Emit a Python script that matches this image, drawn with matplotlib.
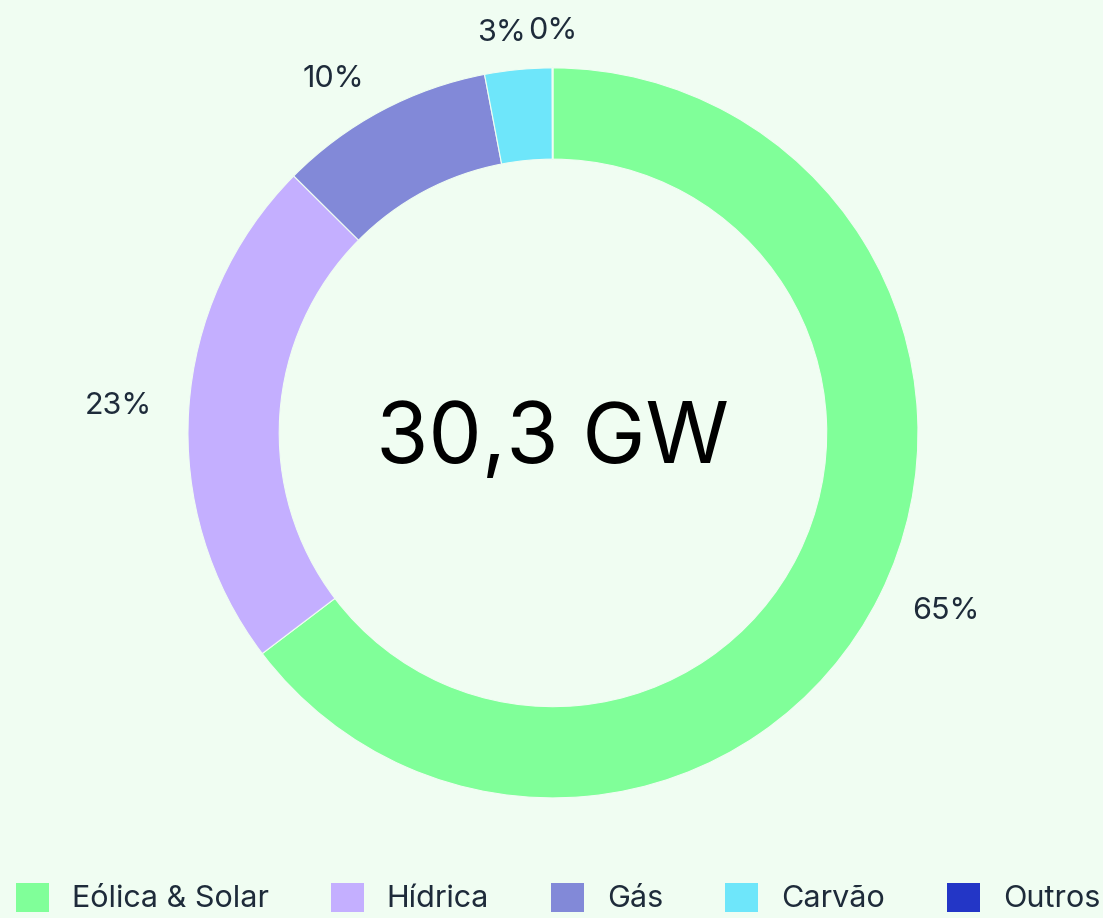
import matplotlib
matplotlib.use("Agg")
import matplotlib.pyplot as plt
from matplotlib.patches import Patch
import numpy as np

plt.rcParams['font.family'] = ['Inter', 'DejaVu Sans']

# capacity by source (GW)
labels = ["Eólica & Solar", "Hídrica", "Gás", "Carvão", "Outros"]
values = [19.6, 6.9, 2.9, 0.9, 0.01]
colors = ["#80FF99", "#C4AFFF", "#8289D8", "#6EE6FA", "#2336C6"]
total_text = "30,3 GW"

bg = "#F0FDF2"
txt = "#1E2B3A"

fig = plt.figure(figsize=(11.03, 9.18), dpi=100, facecolor=bg)
ax = fig.add_axes([0, 0, 1, 1])
ax.set_facecolor(bg)

wedges, _ = ax.pie(values, colors=colors, startangle=90, counterclock=False,
                   radius=1, wedgeprops=dict(width=0.25, edgecolor=bg, linewidth=0.8))

tot = sum(values)
for w, v in zip(wedges, values):
    ang = np.deg2rad((w.theta1 + w.theta2) / 2)
    x, y = 1.1 * np.cos(ang), 1.1 * np.sin(ang)
    ha = "left" if x > 0.05 else ("right" if x < -0.05 else "center")
    if ha == "right" and y > 1.0:
        x += 0.03
    ax.text(x, y, "%.0f%%" % (100 * v / tot), ha=ha, va="center",
            fontsize=22, color=txt)

ax.text(0, -0.02, total_text, ha="center", va="center", fontsize=61, color="black")

ax.set_xlim(-1.515, 1.507)
ax.set_ylim(-1.329, 1.186)
ax.set_aspect("equal")
ax.axis("off")

handles = [Patch(facecolor=c, edgecolor="none") for c in colors]
fig.legend(handles, labels, loc="center", bbox_to_anchor=(558 / 1103, 20 / 918),
           ncol=5, frameon=False, fontsize=22, labelcolor=txt,
           handlelength=1.08, handleheight=1.08, handletextpad=0.75,
           columnspacing=2.03, borderaxespad=0, borderpad=0)

fig.savefig("out.png", dpi=100, facecolor=bg)
